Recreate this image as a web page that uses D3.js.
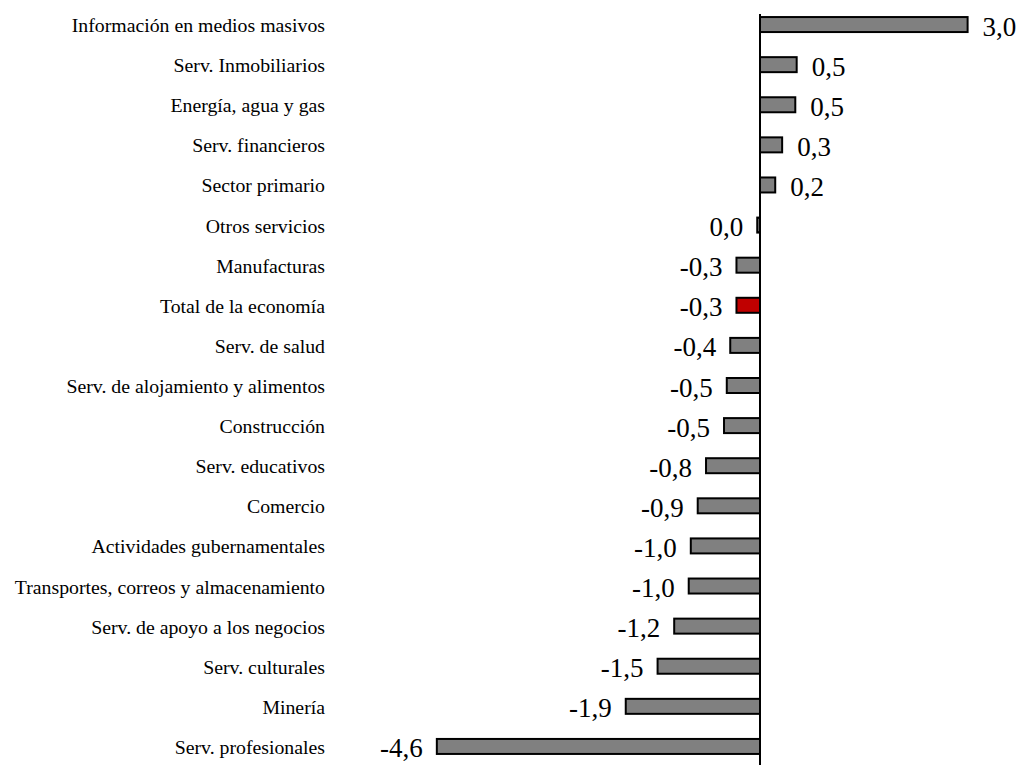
<!DOCTYPE html>
<html>
<head>
<meta charset="utf-8">
<script src="https://cdn.jsdelivr.net/npm/d3@7"></script>
<style>
  body { margin: 0; background: #fff; }
</style>
</head>
<body>
<div id="chart"></div>
<script>
// sectors, top to bottom
var categories = [
  "Información en medios masivos",
  "Serv. Inmobiliarios",
  "Energía, agua y gas",
  "Serv. financieros",
  "Sector primario",
  "Otros servicios",
  "Manufacturas",
  "Total de la economía",
  "Serv. de salud",
  "Serv. de alojamiento y alimentos",
  "Construcción",
  "Serv. educativos",
  "Comercio",
  "Actividades gubernamentales",
  "Transportes, correos y almacenamiento",
  "Serv. de apoyo a los negocios",
  "Serv. culturales",
  "Minería",
  "Serv. profesionales"
];

var values = [3.0, 0.53, 0.51, 0.32, 0.22, -0.04, -0.34, -0.34, -0.43, -0.48, -0.52,
  -0.78, -0.90, -1.0, -1.03, -1.24, -1.48, -1.94, -4.67];

var labels = ["3,0", "0,5", "0,5", "0,3", "0,2", "0,0", "-0,3", "-0,3", "-0,4", "-0,5", "-0,5",
  "-0,8", "-0,9", "-1,0", "-1,0", "-1,2", "-1,5", "-1,9", "-4,6"];

var highlight = "Total de la economía";

var width = 1028, height = 765;
var zeroX = 760, pxPerUnit = 69.2;
var serif = "'Liberation Serif', 'Times New Roman', Times, serif";

var svg = d3.select("#chart").append("svg")
  .attr("width", width)
  .attr("height", height)
  .attr("font-family", serif);

var x = d3.scaleLinear()
  .domain([-5, 3.5])
  .range([zeroX - 5 * pxPerUnit, zeroX + 3.5 * pxPerUnit]);

var y = d3.scaleBand()
  .domain(categories)
  .range([4.5, 766.5])
  .paddingInner(0.626)
  .paddingOuter(0.313);

var data = categories.map(function(c, i) {
  return {name: c, value: values[i], label: labels[i]};
});

// category labels
svg.append("g").selectAll("text")
  .data(data)
  .enter().append("text")
  .attr("x", 325)
  .attr("y", function(d) { return y(d.name) + y.bandwidth() / 2 + 0.5; })
  .attr("text-anchor", "end")
  .attr("dominant-baseline", "central")
  .attr("font-size", 19.8)
  .text(function(d) { return d.name; });

// bars
svg.append("g").selectAll("rect")
  .data(data)
  .enter().append("rect")
  .attr("x", function(d) { return x(Math.min(0, d.value)); })
  .attr("y", function(d) { return y(d.name); })
  .attr("width", function(d) { return Math.abs(x(d.value) - x(0)); })
  .attr("height", y.bandwidth())
  .attr("fill", function(d) { return d.name === highlight ? "#c00000" : "#808080"; })
  .attr("stroke", "#000")
  .attr("stroke-width", 2);

// value labels
svg.append("g").selectAll("text")
  .data(data)
  .enter().append("text")
  .attr("x", function(d) { return d.value >= 0 ? x(d.value) + 15 : x(d.value) - 14; })
  .attr("y", function(d) { return y(d.name) + y.bandwidth() / 2 + 2; })
  .attr("text-anchor", function(d) { return d.value >= 0 ? "start" : "end"; })
  .attr("dominant-baseline", "central")
  .attr("font-size", 27)
  .text(function(d) { return d.label; });

// zero axis
svg.append("line")
  .attr("x1", x(0)).attr("x2", x(0))
  .attr("y1", 14).attr("y2", height)
  .attr("stroke", "#000")
  .attr("stroke-width", 2);
</script>
</body>
</html>
